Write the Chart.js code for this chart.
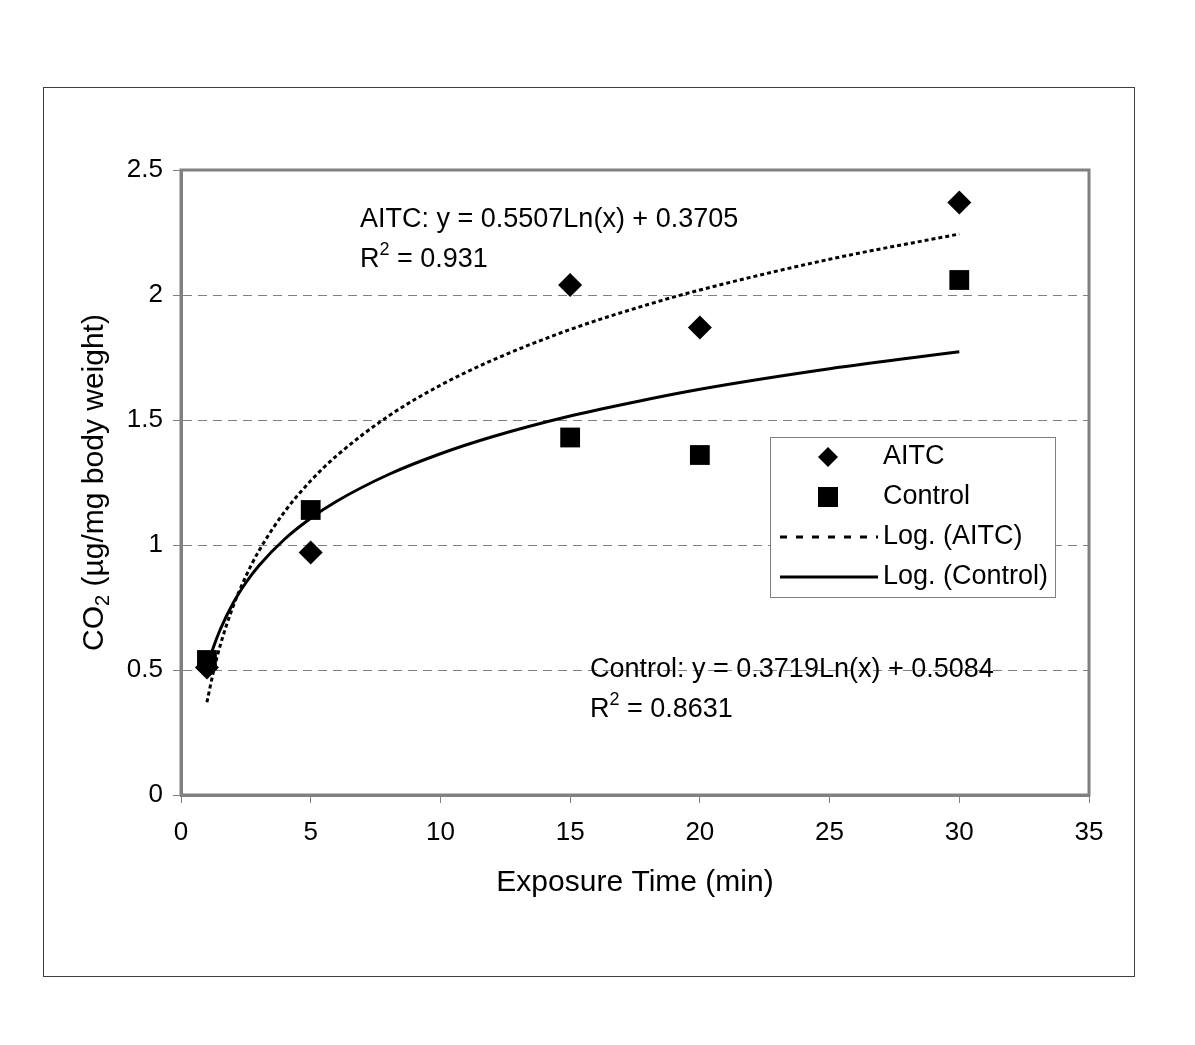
<!DOCTYPE html>
<html>
<head>
<meta charset="utf-8">
<script src="https://cdn.jsdelivr.net/npm/chart.js@4.4.1/dist/chart.umd.min.js"></script>
<style>
  body { margin: 0; background: #fff; }
  #wrap { width: 1195px; height: 1045px; }
</style>
</head>
<body>
<div id="wrap"><canvas id="co2Chart" width="1195" height="1045"></canvas></div>
<script>
// exposure times and measured values
const times = [1, 5, 15, 20, 30];
const aitcValues = [0.51, 0.97, 2.04, 1.87, 2.37];
const controlValues = [0.54, 1.14, 1.43, 1.36, 2.06];

// logarithmic trendlines
const trendTimes = [1, 1.25, 1.5, 2, 2.5, 3, 4, 5, 6, 8, 10, 12, 15, 18, 20, 25, 30];
const aitcTrend = [0.371, 0.493, 0.594, 0.752, 0.875, 0.976, 1.134, 1.257, 1.357, 1.516, 1.639, 1.739, 1.862, 1.962, 2.020, 2.143, 2.244];
const controlTrend = [0.508, 0.591, 0.659, 0.766, 0.849, 0.917, 1.024, 1.107, 1.175, 1.282, 1.365, 1.433, 1.516, 1.583, 1.623, 1.705, 1.773];

const xTicks = [0, 5, 10, 15, 20, 25, 30, 35];
const yTicks = [0, 0.5, 1, 1.5, 2, 2.5];

const FONT = '"Liberation Sans", Arial, sans-serif';
const GRAY = '#808080';

function toPoints(xs, ys) {
    return xs.map((x, i) => ({ x: x, y: ys[i] }));
}

// text with a small raised or lowered digit, e.g. R² or CO₂
function drawScripted(ctx, before, small, after, x, y, size, shift) {
    ctx.font = size + 'px ' + FONT;
    ctx.fillText(before, x, y);
    let w = ctx.measureText(before).width;
    ctx.font = Math.round(size * 0.65) + 'px ' + FONT;
    ctx.fillText(small, x + w, y + shift);
    w += ctx.measureText(small).width;
    ctx.font = size + 'px ' + FONT;
    ctx.fillText(after, x + w, y);
}

const decorations = {
    id: 'decorations',
    afterDraw(chart) {
        const ctx = chart.ctx;
        const area = chart.chartArea;
        ctx.save();

        // outer frame
        ctx.strokeStyle = '#404040';
        ctx.lineWidth = 1;
        ctx.strokeRect(43.5, 87.5, 1091, 889);

        // plot frame
        ctx.strokeStyle = GRAY;
        ctx.lineWidth = 3;
        ctx.strokeRect(area.left, area.top, area.right - area.left, area.bottom - area.top);

        ctx.fillStyle = '#000';
        ctx.textBaseline = 'middle';
        ctx.textAlign = 'left';

        // equations
        drawScripted(ctx, 'AITC: y = 0.5507Ln(x) + 0.3705', '', '', 360, 220, 27, 0);
        drawScripted(ctx, 'R', '2', ' = 0.931', 360, 260, 27, -10);
        drawScripted(ctx, 'Control: y = 0.3719Ln(x) + 0.5084', '', '', 590, 670, 27, 0);
        drawScripted(ctx, 'R', '2', ' = 0.8631', 590, 710, 27, -10);

        // x axis title
        ctx.textAlign = 'center';
        ctx.font = '30px ' + FONT;
        ctx.fillText('Exposure Time (min)', (area.left + area.right) / 2, 883);

        // y axis title with subscript
        ctx.save();
        ctx.translate(95, (area.top + area.bottom) / 2);
        ctx.rotate(-Math.PI / 2);
        ctx.textAlign = 'left';
        ctx.font = '30px ' + FONT;
        const full = ctx.measureText('CO (µg/mg body weight)').width;
        ctx.font = '20px ' + FONT;
        const sub = ctx.measureText('2').width;
        drawScripted(ctx, 'CO', '2', ' (µg/mg body weight)', -(full + sub) / 2, 0, 30, 8);
        ctx.restore();

        // legend
        const lx = 770, ly = 437, lw = 285, lh = 160;
        ctx.fillStyle = '#fff';
        ctx.fillRect(lx, ly, lw, lh);
        ctx.strokeStyle = GRAY;
        ctx.lineWidth = 1;
        ctx.strokeRect(lx + 0.5, ly + 0.5, lw, lh);

        const rows = [457, 497, 537, 577];
        ctx.fillStyle = '#000';
        // diamond
        ctx.beginPath();
        ctx.moveTo(828, rows[0] - 10);
        ctx.lineTo(838, rows[0]);
        ctx.lineTo(828, rows[0] + 10);
        ctx.lineTo(818, rows[0]);
        ctx.closePath();
        ctx.fill();
        // square
        ctx.fillRect(818, rows[1] - 10, 20, 20);
        // dotted line
        ctx.strokeStyle = '#000';
        ctx.lineWidth = 3;
        ctx.setLineDash([7, 9]);
        ctx.beginPath();
        ctx.moveTo(780, rows[2]);
        ctx.lineTo(878, rows[2]);
        ctx.stroke();
        ctx.setLineDash([]);
        ctx.beginPath();
        ctx.moveTo(780, rows[3]);
        ctx.lineTo(878, rows[3]);
        ctx.stroke();

        ctx.textAlign = 'left';
        ctx.font = '27px ' + FONT;
        ctx.fillText('AITC', 883, rows[0]);
        ctx.fillText('Control', 883, rows[1]);
        ctx.fillText('Log. (AITC)', 883, rows[2]);
        ctx.fillText('Log. (Control)', 883, rows[3]);

        ctx.restore();
    }
};

new Chart(document.getElementById('co2Chart'), {
    type: 'scatter',
    data: {
        datasets: [
            {
                label: 'AITC',
                data: toPoints(times, aitcValues),
                pointStyle: 'rectRot',
                pointRadius: 12,
                backgroundColor: '#000',
                borderColor: '#000',
                borderWidth: 0
            },
            {
                label: 'Control',
                data: toPoints(times, controlValues),
                pointStyle: 'rect',
                pointRadius: 14,
                backgroundColor: '#000',
                borderColor: '#000',
                borderWidth: 0
            },
            {
                label: 'Log. (AITC)',
                data: toPoints(trendTimes, aitcTrend),
                showLine: true,
                pointRadius: 0,
                borderColor: '#000',
                borderWidth: 3,
                borderDash: [4, 3],
                cubicInterpolationMode: 'monotone'
            },
            {
                label: 'Log. (Control)',
                data: toPoints(trendTimes, controlTrend),
                showLine: true,
                pointRadius: 0,
                borderColor: '#000',
                borderWidth: 3,
                cubicInterpolationMode: 'monotone'
            }
        ]
    },
    options: {
        responsive: false,
        animation: false,
        layout: { padding: { left: 0, top: 170, right: 106, bottom: 0 } },
        plugins: {
            legend: { display: false },
            tooltip: { enabled: false }
        },
        scales: {
            x: {
                type: 'linear',
                min: 0,
                max: 35,
                afterFit(scale) { scale.height = 250; },
                afterBuildTicks(scale) { scale.ticks = xTicks.map(v => ({ value: v })); },
                border: { color: GRAY, width: 3 },
                grid: { drawOnChartArea: false, drawTicks: true, tickLength: 8, color: GRAY, lineWidth: 1 },
                ticks: { color: '#000', padding: 14, font: { family: FONT, size: 26 }, callback: v => String(v) }
            },
            y: {
                type: 'linear',
                min: 0,
                max: 2.5,
                afterFit(scale) { scale.width = 181; },
                afterBuildTicks(scale) { scale.ticks = yTicks.map(v => ({ value: v })); },
                border: { color: GRAY, width: 3, dash: [9, 6] },
                grid: {
                    drawTicks: true,
                    tickLength: 8,
                    lineWidth: 1,
                    color: c => (c.tick && (c.tick.value === 0 || c.tick.value === 2.5)) ? 'rgba(0,0,0,0)' : GRAY,
                    tickColor: GRAY,
                    tickBorderDash: []
                },
                ticks: { color: '#000', padding: 10, font: { family: FONT, size: 26 }, callback: v => String(v) }
            }
        }
    },
    plugins: [decorations]
});
</script>
</body>
</html>
